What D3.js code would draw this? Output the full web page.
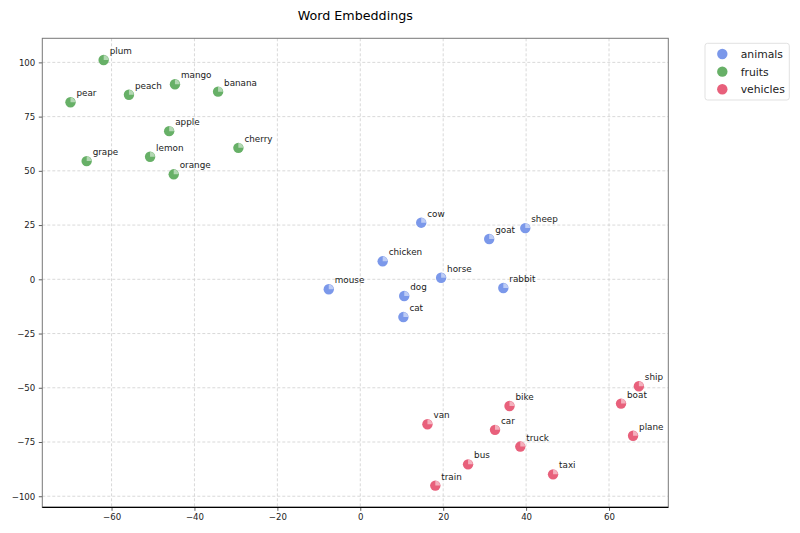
<!DOCTYPE html>
<html><head><meta charset="utf-8">
<script src="https://cdn.jsdelivr.net/npm/d3@7"></script>
<style>body{margin:0;background:#fff;} text{font-family:"DejaVu Sans",sans-serif;}</style>
</head><body>
<svg id="c" width="800" height="533"></svg>
<script>
const categories = ["animals", "fruits", "vehicles"];
const colors = ["#7b98ea", "#67b067", "#e8607b"];
const animalWords = ["cow","sheep","goat","chicken","horse","rabbit","mouse","dog","cat"];
const animalX = [14.7, 39.8, 31.1, 5.4, 19.5, 34.5, -7.6, 10.6, 10.4];
const animalY = [26.1, 23.6, 18.6, 8.3, 0.7, -4.0, -4.6, -7.7, -17.4];
const fruitWords = ["plum","pear","peach","mango","banana","apple","cherry","grape","lemon","orange"];
const fruitX = [-61.9, -69.9, -55.8, -44.7, -34.3, -46.1, -29.4, -66.0, -50.7, -45.0];
const fruitY = [101.1, 81.6, 85.1, 89.9, 86.5, 68.3, 60.6, 54.5, 56.5, 48.4];
const vehicleWords = ["ship","boat","bike","van","car","plane","truck","bus","taxi","train"];
const vehicleX = [67.2, 62.9, 36.0, 16.2, 32.5, 65.8, 38.6, 26.0, 46.5, 18.1];
const vehicleY = [-49.3, -57.3, -58.4, -66.8, -69.4, -72.1, -77.1, -85.3, -89.9, -95.1];
const xTicks = [-60, -40, -20, 0, 20, 40, 60];
const yTicks = [-100, -75, -50, -25, 0, 25, 50, 75, 100];

const svg = d3.select("#c");
const L = 42.3, R = 668.3, T = 38.3, B = 507.3;
const x = d3.scaleLinear().domain([-76.7, 74.3]).range([L, R]);
const y = d3.scaleLinear().domain([-105.1, 111.1]).range([B, T]);

// grid
svg.append("g").selectAll("line").data(xTicks).join("line")
  .attr("x1", d => x(d)).attr("x2", d => x(d)).attr("y1", T).attr("y2", B)
  .attr("stroke", "#cfcfcf").attr("stroke-width", 0.8).attr("stroke-dasharray", "3,2");
svg.append("g").selectAll("line").data(yTicks).join("line")
  .attr("y1", d => y(d)).attr("y2", d => y(d)).attr("x1", L).attr("x2", R)
  .attr("stroke", "#cfcfcf").attr("stroke-width", 0.8).attr("stroke-dasharray", "3,2");

// axes
const xAxis = svg.append("g").attr("transform", `translate(0,${B})`)
  .call(d3.axisBottom(x).tickValues(xTicks).tickSize(3.5).tickPadding(3.5).tickFormat(d => d < 0 ? "\u2212" + Math.abs(d) : d));
const yAxis = svg.append("g").attr("transform", `translate(${L},0)`)
  .call(d3.axisLeft(y).tickValues(yTicks).tickSize(3.5).tickPadding(3.5).tickFormat(d => d < 0 ? "\u2212" + Math.abs(d) : d));
[xAxis, yAxis].forEach(a => {
  a.select(".domain").remove();
  a.selectAll("text").attr("font-size", 8.6).attr("fill", "#222").attr("font-family", "DejaVu Sans");
  a.selectAll("line").attr("stroke", "#333").attr("stroke-width", 0.8);
});

// frame
svg.append("rect").attr("x", L).attr("y", T).attr("width", R - L).attr("height", B - T)
  .attr("fill", "none").attr("stroke", "#777").attr("stroke-width", 1);
svg.append("line").attr("x1", L).attr("x2", R).attr("y1", B).attr("y2", B)
  .attr("stroke", "#000").attr("stroke-width", 1.2);

// points
const groups = [
  {words: animalWords, xs: animalX, ys: animalY, c: 0},
  {words: fruitWords, xs: fruitX, ys: fruitY, c: 1},
  {words: vehicleWords, xs: vehicleX, ys: vehicleY, c: 2}
];
const wedge = d3.arc().innerRadius(0).outerRadius(4.8).startAngle(0).endAngle(Math.PI / 2);
groups.forEach(g => {
  const data = g.words.map((w, i) => ({w, x: g.xs[i], y: g.ys[i]}));
  const gg = svg.append("g");
  const pts = gg.selectAll("g").data(data).join("g")
    .attr("transform", d => `translate(${x(d.x)},${y(d.y)})`);
  pts.append("circle").attr("r", 5.2).attr("fill", colors[g.c]);
  pts.append("path").attr("d", wedge).attr("fill", "#fff").attr("opacity", 0.5);
  gg.selectAll("text").data(data).join("text")
    .attr("x", d => x(d.x) + 6).attr("y", d => y(d.y) - 6)
    .attr("font-size", 8.8).attr("fill", "#1a1a1a").text(d => d.w);
});

// title
svg.append("text").attr("x", (L + R) / 2).attr("y", 20).attr("text-anchor", "middle")
  .attr("font-size", 12.7).attr("fill", "#000").text("Word Embeddings");

// legend
const lg = svg.append("g");
lg.append("rect").attr("x", 705).attr("y", 43.3).attr("width", 84.3).attr("height", 56.7)
  .attr("rx", 2.5).attr("fill", "#fff").attr("stroke", "#d9d9d9").attr("stroke-width", 0.8);
categories.forEach((cat, i) => {
  const cy = 54 + i * 17.65;
  lg.append("circle").attr("cx", 722.3).attr("cy", cy).attr("r", 5.2).attr("fill", colors[i]);
  lg.append("text").attr("x", 740.7).attr("y", cy + 4).attr("font-size", 10.8).attr("fill", "#222").text(cat);
});
</script>
</body></html>
